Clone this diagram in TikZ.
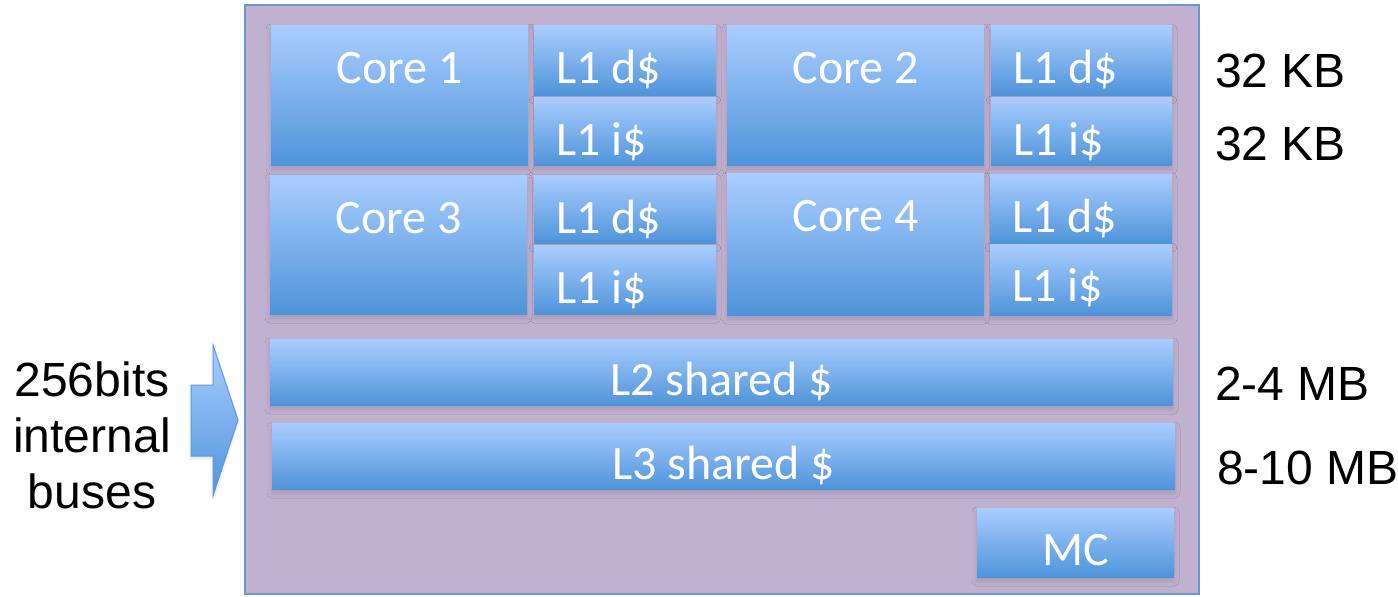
\documentclass[tikz,border=0pt]{standalone}
\usepackage{fontspec}
\setmainfont{Liberation Sans}
\newfontfamily\boxfont{Carlito}
\usetikzlibrary{shadows.blur}
\definecolor{chip}{RGB}{193,177,209}
\definecolor{edgeblue}{RGB}{104,152,208}
\definecolor{gtop}{RGB}{170,205,255}
\definecolor{gbot}{RGB}{79,148,217}
\tikzset{
  blk/.style={rectangle, inner sep=0pt, outer sep=0pt, anchor=north west,
    top color=gtop, bottom color=gbot, draw=none,
    blur shadow={shadow xshift=0pt, shadow yshift=-4pt, shadow blur radius=5pt, shadow opacity=14}},
  lbl/.style={text=white, font=\boxfont\fontsize{48}{52}\selectfont, inner sep=0pt, anchor=base},
  lbll/.style={lbl, anchor=base west},
  side/.style={text=black, font=\fontsize{48}{56}\selectfont, inner sep=0pt}
}
\begin{document}
\begin{tikzpicture}[x=1pt,y=-1pt]
\useasboundingbox (0,0) rectangle (1398,597);
% chip
\node[draw=edgeblue, line width=1.5pt, fill=chip, inner sep=0pt, outer sep=0pt,
  minimum width=954pt, minimum height=589pt, anchor=north west] (chipbox) at (245,5) {};
% row 1
\node[blk, minimum width=257pt, minimum height=140pt] (c1) at (271,25) {};
\node[blk, minimum width=182pt, minimum height=70pt] (d1) at (534,25) {};
\node[blk, minimum width=182pt, minimum height=68pt] (i1) at (534,97) {};
\node[blk, minimum width=257pt, minimum height=140pt] (c2) at (727,25) {};
\node[blk, minimum width=181pt, minimum height=70pt] (d2) at (991,25) {};
\node[blk, minimum width=181pt, minimum height=68pt] (i2) at (991,97) {};
% row 2
\node[blk, minimum width=257pt, minimum height=139pt] (c3) at (270,175) {};
\node[blk, minimum width=182pt, minimum height=68pt] (d3) at (534,175) {};
\node[blk, minimum width=182pt, minimum height=69pt] (i3) at (534,245) {};
\node[blk, minimum width=257pt, minimum height=142pt] (c4) at (727,173) {};
\node[blk, minimum width=182pt, minimum height=69pt] (d4) at (990,174) {};
\node[blk, minimum width=182pt, minimum height=71pt] (i4) at (990,244) {};
% shared
\node[blk, minimum width=903pt, minimum height=66pt] (l2) at (270,339) {};
\node[blk, minimum width=903pt, minimum height=66pt] (l3) at (272,423) {};
\node[blk, minimum width=197pt, minimum height=69pt] (mc) at (977,508) {};
% labels
\node[lbl] at ([yshift=-58pt]c1.north) {Core 1};
\node[lbl] at ([yshift=-58pt]c2.north) {Core 2};
\node[lbl] at ([yshift=-58pt]c3.north) {Core 3};
\node[lbl] at ([yshift=-58pt]c4.north) {Core 4};
\node[lbll] at ([xshift=22pt,yshift=-58pt]d1.north west) {L1 d\$};
\node[lbll] at ([xshift=22pt,yshift=-58pt]i1.north west) {L1 i\$};
\node[lbll] at ([xshift=22pt,yshift=-58pt]d2.north west) {L1 d\$};
\node[lbll] at ([xshift=22pt,yshift=-58pt]i2.north west) {L1 i\$};
\node[lbll] at ([xshift=22pt,yshift=-58pt]d3.north west) {L1 d\$};
\node[lbll] at ([xshift=22pt,yshift=-58pt]i3.north west) {L1 i\$};
\node[lbll] at ([xshift=22pt,yshift=-58pt]d4.north west) {L1 d\$};
\node[lbll] at ([xshift=22pt,yshift=-57pt]i4.north west) {L1 i\$};
\node[lbl] at ([yshift=-56pt]l2.north) {L2 shared \$};
\node[lbl] at ([yshift=-56pt]l3.north) {L3 shared \$};
\node[lbl] at ([yshift=-57pt]mc.north) {MC};
% side labels
\node[side, anchor=base west] (s1) at (1215,87) {32 KB};
\node[side, anchor=base west] (s2) at (1215,160) {32 KB};
\node[side, anchor=base west] (s3) at (1215,400) {2-4 MB};
\node[side, anchor=base west] (s4) at (1217,484) {8-10 MB};
\node[side, anchor=base] (b1) at (92,396) {256bits};
\node[side, anchor=base] (b2) at (92,452) {internal};
\node[side, anchor=base] (b3) at (92,508) {buses};
% arrow
\path[draw=edgeblue, line width=1pt, top color=gtop, bottom color=gbot,
  blur shadow={shadow xshift=0pt, shadow yshift=-2pt, shadow blur radius=3pt, shadow opacity=15}]
  (191,385) -- (213,385) -- (213,345) -- (238,420) -- (213,496) -- (213,456) -- (191,456) -- cycle;
\end{tikzpicture}
\end{document}
